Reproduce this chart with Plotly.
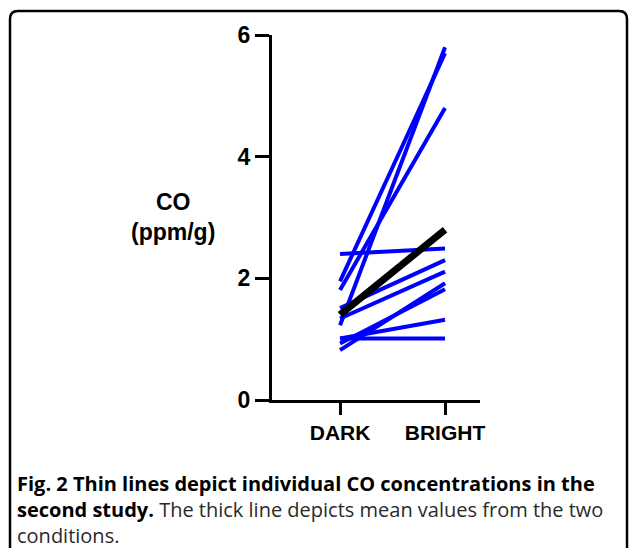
import plotly.graph_objects as go

conditions = ["DARK", "BRIGHT"]
dark = [2.40, 1.95, 1.81, 1.23, 1.51, 1.34, 0.82, 0.93, 1.01, 1.01]
bright = [2.49, 5.70, 4.80, 5.80, 2.30, 2.11, 1.92, 1.82, 1.32, 1.01]
mean_vals = [1.40, 2.80]
y_ticks = [0, 2, 4, 6]

W, H = 629, 548
L, R, T, B = 272, 480, 35, 400  # plot area in px
xr = [-0.648, 1.333]

def px(x):
    return (x - L) / (R - L)

def py(y):
    return (B - y) / (B - T)

fig = go.Figure()
for d, b in zip(dark, bright):
    fig.add_trace(go.Scatter(x=[0, 1], y=[d, b], mode="lines",
                             line=dict(color="#0000ff", width=4), showlegend=False,
                             hoverinfo="skip"))
fig.add_trace(go.Scatter(x=[0, 1], y=mean_vals, mode="lines",
                         line=dict(color="#000000", width=7), showlegend=False,
                         hoverinfo="skip"))

xfont = dict(family="Liberation Sans, Arial", size=21, color="black")
yfont = dict(family="Liberation Sans, Arial", size=23, color="black")
fig.update_layout(
    width=W, height=H,
    margin=dict(l=L, r=W - R, t=T, b=H - B, autoexpand=False),
    paper_bgcolor="white", plot_bgcolor="white",
    xaxis=dict(range=xr, tickvals=[0, 1], ticktext=[f"<b>{c}</b>" for c in conditions],
               showline=True, linecolor="black", linewidth=3, ticks="outside",
               ticklen=12, tickwidth=3, tickcolor="black", showgrid=False,
               zeroline=False, tickfont=xfont),
    yaxis=dict(range=[0, 6], tickvals=y_ticks, ticktext=[f"<b>{t}</b>" for t in y_ticks],
               showline=True, linecolor="black", linewidth=3, ticks="outside",
               ticklen=14, tickwidth=3, tickcolor="black", showgrid=False,
               zeroline=False, tickfont=yfont),
)

fig.add_annotation(x=px(173), y=py(217), xref="paper", yref="paper",
                   text="<b>CO</b><br><b>(ppm/g)</b>", showarrow=False,
                   font=dict(family="Liberation Sans, Arial", size=23, color="black"),
                   xanchor="center", yanchor="middle", align="center")

cap_font = dict(family="Open Sans", size=20, color="#2a2a2a")
cap_lines = [
    ("<b><span style='color:black'>Fig. 2 Thin lines depict individual CO concentrations in the</span></b>", 483),
    ("<b><span style='color:black'>second study.</span></b> The thick line depicts mean values from the two", 510),
    ("conditions.", 535),
]
for txt, yy in cap_lines:
    fig.add_annotation(x=px(15), y=py(yy), xref="paper", yref="paper", text=txt,
                       showarrow=False, font=cap_font, xanchor="left", yanchor="middle",
                       align="left")

# rounded border (left, top, right)
r = 8
x0, y0, x1, y1 = 10, 11, 627, 552
path = (f"M {px(x0)} {py(y1)} L {px(x0)} {py(y0 + r)} Q {px(x0)} {py(y0)} {px(x0 + r)} {py(y0)} "
        f"L {px(x1 - r)} {py(y0)} Q {px(x1)} {py(y0)} {px(x1)} {py(y0 + r)} L {px(x1)} {py(y1)}")
fig.add_shape(type="path", path=path, xref="paper", yref="paper",
              line=dict(color="black", width=2.5))

fig.write_html("out.html")
